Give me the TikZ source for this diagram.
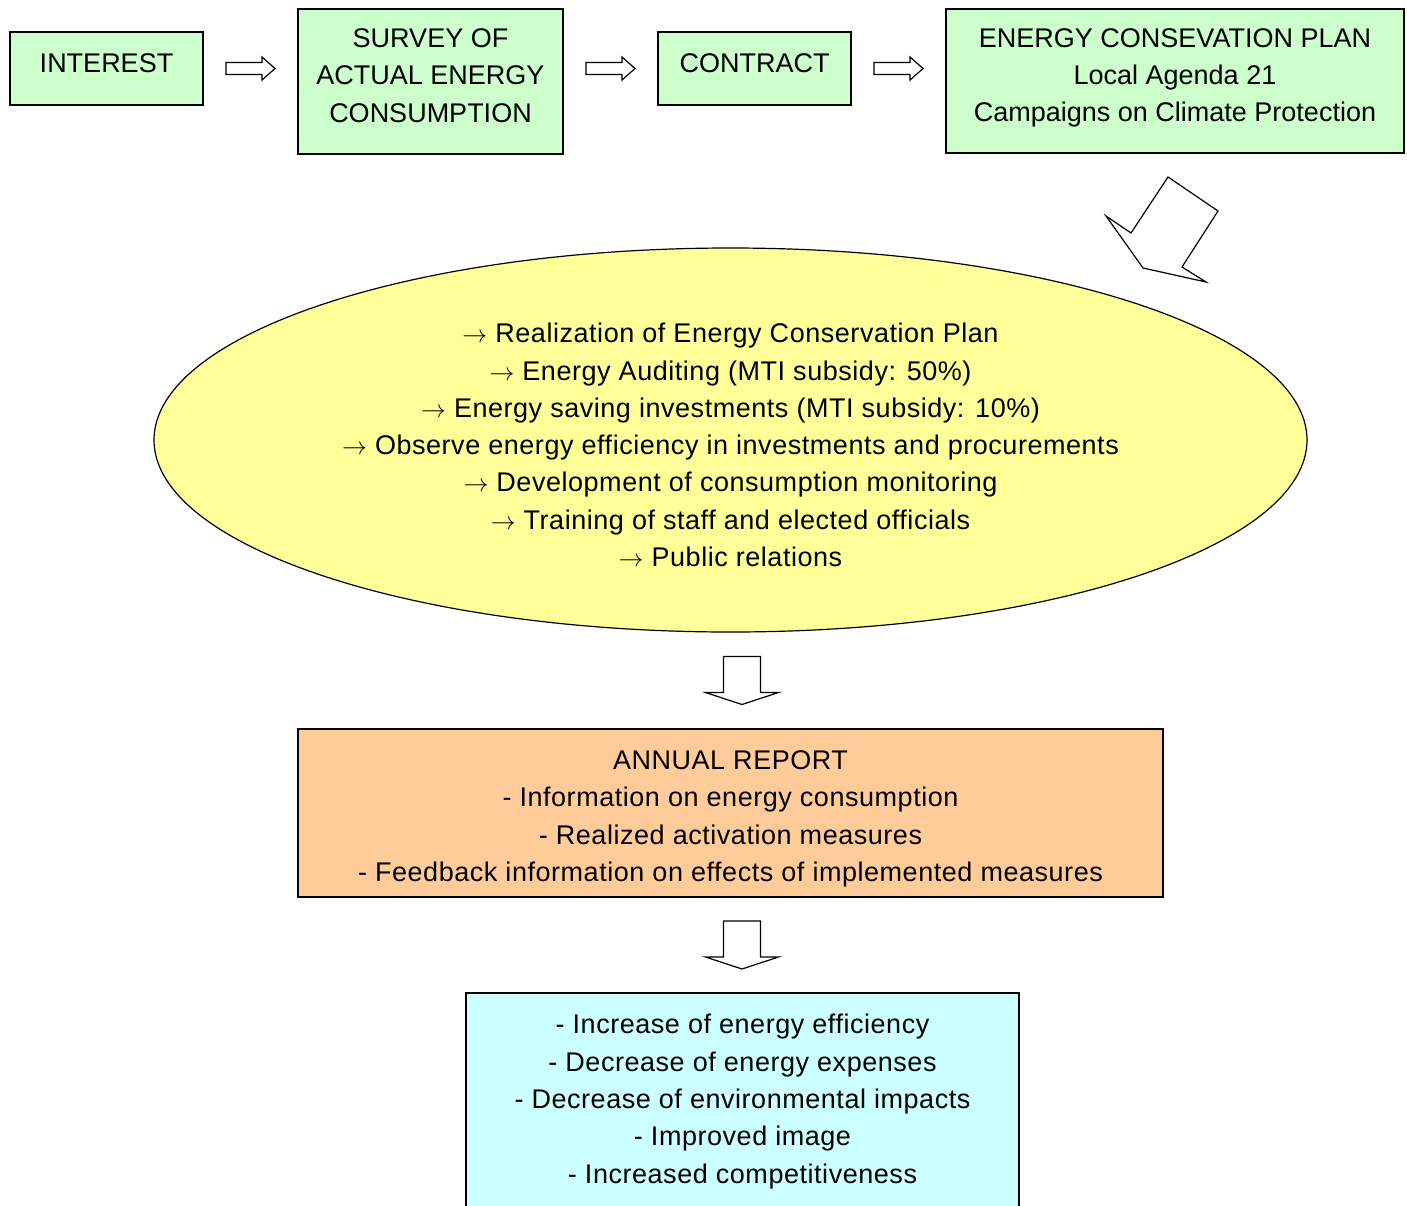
\documentclass[tikz,border=0pt]{standalone}
\usepackage{fontspec}
\setmainfont{Liberation Sans}
\newfontfamily\listfont[LetterSpace=2]{Liberation Sans}
\usepackage{tikz}
\usetikzlibrary{shapes.geometric, positioning, calc}
\definecolor{stepgreen}{HTML}{CCFFCC}
\definecolor{planyellow}{HTML}{FFFF99}
\definecolor{reportorange}{HTML}{FFCC99}
\definecolor{resultcyan}{HTML}{CCFFFF}
\tikzstyle{stepbox} = [rectangle, draw=black, line width=1.2pt, inner sep=0pt]
\tikzstyle{actions} = [ellipse, draw=black, line width=1.2pt,
  fill=planyellow, inner sep=0pt]
\tikzstyle{boxtext} = [align=center, inner sep=0pt,
  font=\fontsize{27}{37.3}\selectfont]
\tikzstyle{listtext} = [align=center, inner sep=0pt,
  font=\listfont\fontsize{27}{37.3}\selectfont]
\tikzstyle{blockarrow} = [draw=black, fill=white, line width=1.2pt, line join=miter]
\tikzset{
  rightblock/.pic={\draw[blockarrow] (-24.5,-6) -- (11.5,-6) -- (11.5,-11.5) -- (24.5,0)
    -- (11.5,11.5) -- (11.5,6) -- (-24.5,6) -- cycle;},
  downblock/.pic={\draw[blockarrow] (-18.5,-24) -- (18.5,-24) -- (18.5,12) -- (36.5,12)
    -- (0,24) -- (-36.5,12) -- (-18.5,12) -- cycle;}
}

\begin{document}
\begin{tikzpicture}[x=1pt, y=-1pt]
  \useasboundingbox (0,0) rectangle (1407,1205);

  % Top row
  \node[stepbox, fill=stepgreen, minimum width=193, minimum height=73] (interest)
    at (106.5,68.5) {};
  \node[stepbox, fill=stepgreen, minimum width=265, minimum height=145] (survey)
    at (430.5,81.5) {};
  \node[stepbox, fill=stepgreen, minimum width=193, minimum height=73] (contract)
    at (754.5,68.5) {};
  \node[stepbox, fill=stepgreen, minimum width=458, minimum height=144] (plan)
    at (1175,81) {};

  \node[boxtext] (interest-txt) at ([yshift=5]interest.center) {INTEREST};
  \node[boxtext] (survey-txt) at ([yshift=6]survey.center)
    {SURVEY OF\\ACTUAL ENERGY\\CONSUMPTION};
  \node[boxtext] (contract-txt) at ([yshift=5]contract.center) {CONTRACT};
  \node[boxtext] (plan-txt) at ([yshift=3]plan.center)
    {ENERGY CONSEVATION PLAN\\Local Agenda 21\\Campaigns on Climate Protection};

  % Measures
  \node[actions, minimum width=1153, minimum height=384] (measures) at (730.5,440) {};
  \node[listtext] (measures-txt) at ([yshift=-5]measures.center)
    {$\rightarrow$ Realization of Energy Conservation Plan\\
     $\rightarrow$ Energy Auditing (MTI subsidy: 50\%)\\
     $\rightarrow$ Energy saving investments (MTI subsidy: 10\%)\\
     $\rightarrow$ Observe energy efficiency in investments and procurements\\
     $\rightarrow$ Development of consumption monitoring\\
     $\rightarrow$ Training of staff and elected officials\\
     $\rightarrow$ Public relations};

  % Report
  \node[stepbox, fill=reportorange, minimum width=865, minimum height=168] (report)
    at (730.5,813) {};
  \node[listtext] (report-txt) at ([yshift=-6]report.center)
    {ANNUAL REPORT\\
     - Information on energy consumption\\
     - Realized activation measures\\
     - Feedback information on effects of implemented measures};

  % Results
  \node[stepbox, fill=resultcyan, minimum width=553, minimum height=217] (results)
    at (742.5,1101.5) {};
  \node[listtext] (results-txt) at (results.center)
    {- Increase of energy efficiency\\
     - Decrease of energy expenses\\
     - Decrease of environmental impacts\\
     - Improved image\\
     - Increased competitiveness};

  % Block arrows
  \pic at ($(interest.east)!0.5!(survey.west |- interest.east)$) {rightblock};
  \pic at ($(survey.east |- contract.west)!0.5!(contract.west)$) {rightblock};
  \pic at ($(contract.east)!0.5!(plan.west |- contract.east)$) {rightblock};
  \draw[blockarrow] (1168,177) -- (1218,211) -- (1182,267) -- (1206,282)
    -- (1143,268) -- (1106,216) -- (1131,233) -- cycle;
  \pic at ([xshift=11.5]$(measures.south)!0.5!(report.north)$) {downblock};
  \pic at ([xshift=5.5]$(report.south)!0.5!(results.north)$) {downblock};

\end{tikzpicture}
\end{document}
